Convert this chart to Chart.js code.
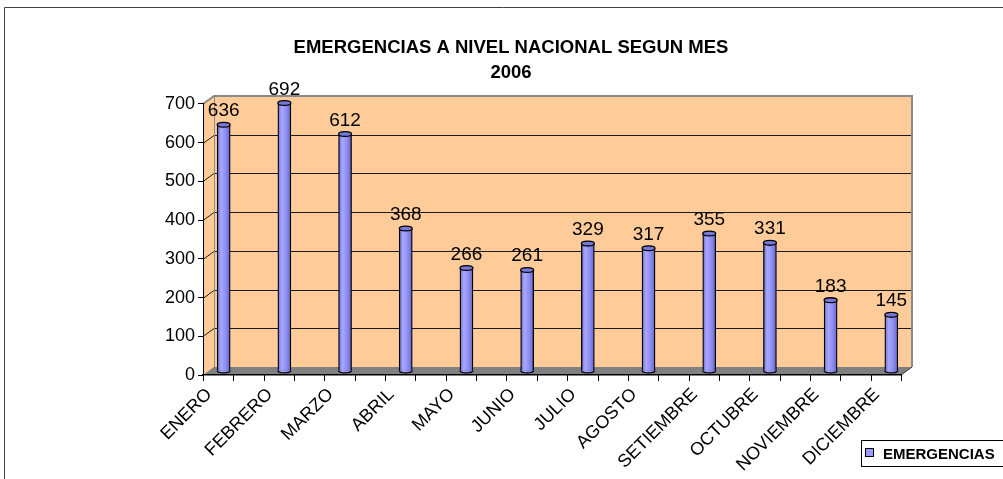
<!DOCTYPE html>
<html>
<head>
<meta charset="utf-8">
<script src="https://cdn.jsdelivr.net/npm/chart.js@4.4.1/dist/chart.umd.min.js"></script>
<style>
  html, body { margin: 0; padding: 0; background: #fff; }
  canvas { display: block; }
</style>
</head>
<body>
<canvas id="chart" width="1003" height="479"></canvas>
<script>
const TITLE = ['EMERGENCIAS A NIVEL NACIONAL SEGUN MES', '2006'];
const SERIES_NAME = 'EMERGENCIAS';
const MESES = ['ENERO', 'FEBRERO', 'MARZO', 'ABRIL', 'MAYO', 'JUNIO', 'JULIO',
               'AGOSTO', 'SETIEMBRE', 'OCTUBRE', 'NOVIEMBRE', 'DICIEMBRE'];
const EMERGENCIAS = [636, 692, 612, 368, 266, 261, 329, 317, 355, 331, 183, 145];
const Y_MIN = 0, Y_MAX = 700, Y_STEP = 100;

// fake 3d depth: back wall offset from the front axes
const DX = 11, DY = -8;
const FONT = "'Liberation Sans', Arial, sans-serif";

Chart.defaults.font.family = FONT;
Chart.defaults.color = '#000';

function barFill(c) {
    const chart = c.chart;
    if (!chart.chartArea || c.dataIndex === undefined) return '#9999FF';
    const cx = chart.scales.x.getPixelForValue(c.dataIndex);
    const g = chart.ctx.createLinearGradient(cx - 6.5, 0, cx + 6.5, 0);
    g.addColorStop(0, '#6c6cd2');
    g.addColorStop(0.3, '#a8a8ff');
    g.addColorStop(0.65, '#8d8df2');
    g.addColorStop(1, '#6464c8');
    return g;
}

const scenery = {
    id: 'scenery',
    beforeDraw(chart) {
        const { ctx, chartArea: a, scales: { x, y } } = chart;
        ctx.save();

        // outer frame
        ctx.strokeStyle = '#404040';
        ctx.lineWidth = 1;
        ctx.beginPath();
        ctx.moveTo(4.5, chart.height);
        ctx.lineTo(4.5, 7.5);
        ctx.lineTo(chart.width, 7.5);
        ctx.stroke();

        // side wall + back wall
        ctx.fillStyle = '#FFCC99';
        ctx.beginPath();
        ctx.moveTo(a.left, a.bottom);
        ctx.lineTo(a.left, a.top);
        ctx.lineTo(a.left + DX, a.top + DY);
        ctx.lineTo(a.right + DX, a.top + DY);
        ctx.lineTo(a.right + DX, a.bottom + DY);
        ctx.lineTo(a.right, a.bottom);
        ctx.closePath();
        ctx.fill();

        // gridlines (side wall diagonal + back wall)
        ctx.strokeStyle = '#1a1a1a';
        ctx.lineWidth = 1;
        y.ticks.forEach(t => {
            if (t.value === Y_MIN || t.value === Y_MAX) return;
            const py = Math.round(y.getPixelForValue(t.value)) + 0.5;
            ctx.beginPath();
            ctx.moveTo(a.left, py);
            ctx.lineTo(a.left + DX, py + DY);
            ctx.lineTo(a.right + DX, py + DY);
            ctx.stroke();
        });

        // floor
        ctx.fillStyle = '#808080';
        ctx.beginPath();
        ctx.moveTo(a.left, a.bottom);
        ctx.lineTo(a.left + DX, a.bottom + DY);
        ctx.lineTo(a.right + DX, a.bottom + DY);
        ctx.lineTo(a.right, a.bottom);
        ctx.closePath();
        ctx.fill();
        ctx.strokeStyle = '#303030';
        ctx.beginPath();
        ctx.moveTo(a.right, a.bottom);
        ctx.lineTo(a.right + DX, a.bottom + DY);
        ctx.stroke();

        // wall edges
        ctx.strokeStyle = '#8a8a8a';
        ctx.lineWidth = 2;
        ctx.beginPath();
        ctx.moveTo(a.left, a.top);
        ctx.lineTo(a.left + DX, a.top + DY);
        ctx.lineTo(a.right + DX, a.top + DY);
        ctx.lineTo(a.right + DX, a.bottom + DY);
        ctx.stroke();
        ctx.lineWidth = 1;
        ctx.beginPath();
        ctx.moveTo(a.left + DX + 0.5, a.top + DY);
        ctx.lineTo(a.left + DX + 0.5, a.bottom + DY);
        ctx.stroke();

        // x tick marks, two per month
        ctx.strokeStyle = '#000';
        for (let k = 0; k <= (MESES.length - 0.5) * 2; k++) {
            const px = Math.round(x.getPixelForValue(k / 2 - 0.25)) + 0.5;
            ctx.beginPath();
            ctx.moveTo(px, a.bottom);
            ctx.lineTo(px, a.bottom + 6);
            ctx.stroke();
        }
        ctx.restore();
    },
    beforeDatasetsDraw(chart) {
        chart.ctx.save();
        chart.ctx.translate(DX / 2, DY / 2);
    },
    afterDatasetsDraw(chart) {
        const ctx = chart.ctx;
        const meta = chart.getDatasetMeta(0);
        meta.data.forEach((bar, i) => {
            const { x, y, base, width } = bar.getProps(['x', 'y', 'base', 'width'], true);
            const rx = width / 2, ry = 2.4;
            // bottom of the cylinder
            ctx.beginPath();
            ctx.ellipse(x, base, rx, ry, 0, 0, Math.PI);
            ctx.fillStyle = bar.options.backgroundColor;
            ctx.fill();
            ctx.strokeStyle = '#000';
            ctx.lineWidth = 1.3;
            ctx.stroke();
            // top cap
            ctx.beginPath();
            ctx.ellipse(x, y, rx, ry, 0, 0, Math.PI * 2);
            ctx.fillStyle = '#7878d8';
            ctx.fill();
            ctx.stroke();
            // value label
            ctx.fillStyle = '#000';
            ctx.font = '19px ' + FONT;
            ctx.textAlign = 'center';
            ctx.textBaseline = 'alphabetic';
            ctx.fillText(String(EMERGENCIAS[i]), x, y - 8.5);
        });
        ctx.restore();
    },
    afterDraw(chart) {
        const ctx = chart.ctx;
        ctx.save();
        // legend box
        ctx.fillStyle = '#fff';
        ctx.strokeStyle = '#000';
        ctx.lineWidth = 1;
        ctx.fillRect(861.5, 440.5, 150, 26);
        ctx.strokeRect(861.5, 440.5, 150, 26);
        ctx.fillStyle = '#9999FF';
        ctx.fillRect(865.5, 448.5, 8, 8);
        ctx.strokeRect(865.5, 448.5, 8, 8);
        ctx.fillStyle = '#000';
        ctx.font = 'bold 15px ' + FONT;
        ctx.textAlign = 'left';
        ctx.textBaseline = 'alphabetic';
        ctx.fillText(SERIES_NAME, 883, 458.5);
        ctx.restore();
    }
};

new Chart(document.getElementById('chart'), {
    type: 'bar',
    data: {
        datasets: [{
            label: SERIES_NAME,
            data: EMERGENCIAS.map((v, i) => ({ x: i, y: v })),
            backgroundColor: barFill,
            borderColor: '#000',
            borderWidth: { left: 1.3, right: 1.3, top: 0, bottom: 0 },
            borderSkipped: false,
            barThickness: 13,
            clip: false
        }]
    },
    options: {
        responsive: false,
        animation: false,
        events: [],
        layout: { padding: { left: 121, right: 102, top: 0, bottom: 0 } },
        plugins: {
            legend: { display: false },
            tooltip: { enabled: false },
            title: {
                display: true,
                text: TITLE,
                color: '#000',
                font: { size: 18.5, weight: 'bold', lineHeight: 1.35 },
                padding: { top: 35, bottom: 19 }
            }
        },
        scales: {
            x: {
                type: 'linear',
                offset: false,
                min: -0.25,
                max: MESES.length - 0.75,
                afterBuildTicks: s => { s.ticks = MESES.map((m, i) => ({ value: i })); },
                afterFit: s => { s.height = 104; },
                grid: { display: false, drawTicks: false },
                border: { display: true, color: '#000', width: 1.5 },
                ticks: {
                    autoSkip: false,
                    minRotation: 45,
                    maxRotation: 45,
                    padding: 9,
                    labelOffset: -9,
                    font: { size: 18 },
                    callback: v => MESES[v]
                }
            },
            y: {
                min: Y_MIN,
                max: Y_MAX,
                afterFit: s => { s.width = 82; },
                ticks: { stepSize: Y_STEP, padding: 3, font: { size: 18 } },
                grid: { drawOnChartArea: false, drawTicks: true, tickLength: 5, color: '#000' },
                border: { display: true, color: '#000', width: 1 }
            }
        }
    },
    plugins: [scenery]
});
</script>
</body>
</html>
